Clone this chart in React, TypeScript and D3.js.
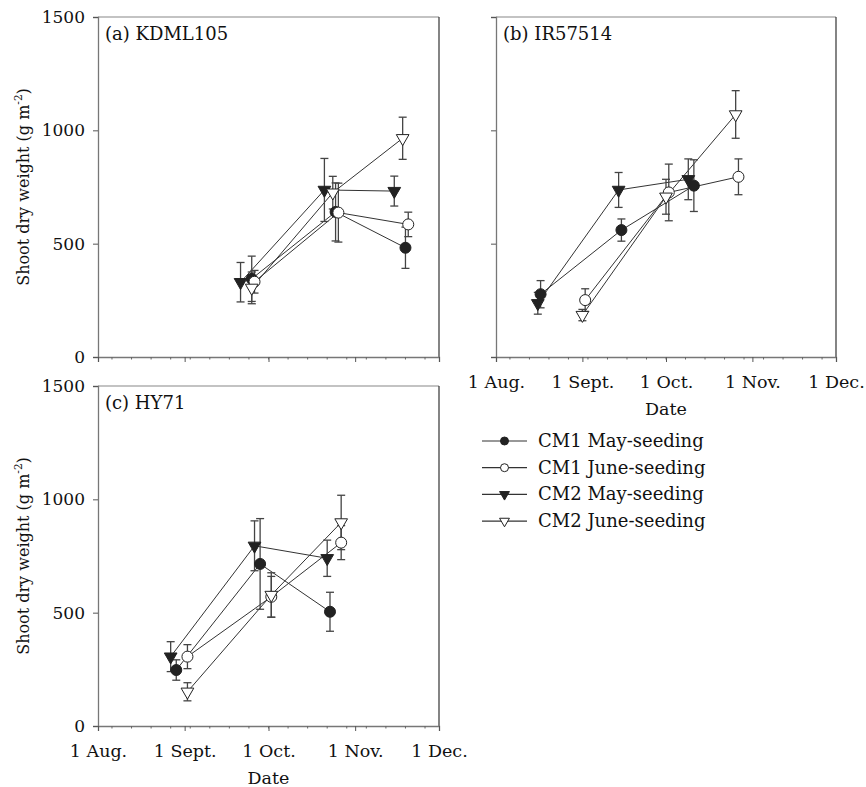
import React, { useEffect, useRef } from "react";
import * as d3 from "d3";

const seriesNames = ["CM1 May-seeding", "CM1 June-seeding", "CM2 May-seeding", "CM2 June-seeding"];
const panelTitles = ["(a) KDML105", "(b) IR57514", "(c) HY71"];

const xTickDates = ["08-01", "09-01", "10-01", "11-01", "12-01"];
const xTickLabels = ["1 Aug.", "1 Sept.", "1 Oct.", "1 Nov.", "1 Dec."];
const yTicks = [0, 500, 1000, 1500];

// (a) KDML105 - rows: CM1 May, CM1 June, CM2 May, CM2 June
const kdmlDates = [
  ["09-25", "10-25", "11-19"],
  ["09-26", "10-26", "11-20"],
  ["09-21", "10-21", "11-15"],
  ["09-25", "10-24", "11-18"],
];
const kdmlValues = [
  [345, 640, 482],
  [332, 637, 585],
  [330, 737, 732],
  [305, 725, 965],
];
const kdmlErrors = [
  [100, 128, 91],
  [50, 130, 54],
  [87, 139, 66],
  [70, 72, 93],
];

// (b) IR57514
const irDates = [
  ["08-17", "09-15", "10-11"],
  ["09-02", "10-02", "10-27"],
  ["08-16", "09-14", "10-09"],
  ["09-01", "10-01", "10-26"],
];
const irValues = [
  [277, 560, 756],
  [251, 726, 795],
  [237, 737, 784],
  [185, 707, 1070],
];
const irErrors = [
  [60, 49, 114],
  [50, 125, 79],
  [48, 77, 90],
  [25, 77, 105],
];

// (c) HY71
const hyDates = [
  ["08-29", "09-28", "10-23"],
  ["09-02", "10-02", "10-27"],
  ["08-27", "09-26", "10-22"],
  ["09-02", "10-02", "10-27"],
];
const hyValues = [
  [247, 715, 504],
  [306, 570, 809],
  [306, 795, 740],
  [151, 578, 898],
];
const hyErrors = [
  [45, 200, 86],
  [53, 90, 75],
  [66, 110, 80],
  [40, 98, 120],
];

const FONT = "DejaVu Serif";
const INK = "#111";
const parse = d3.timeParse("%m-%d");

function App() {
  const ref = useRef<SVGSVGElement>(null);

  useEffect(() => {
    document.body.style.margin = "0";
    const svg = d3.select(ref.current);
    svg.selectAll("*").remove();

    const panels = [
      { left: 98, top: 17, width: 341, height: 340, yLabels: true, xLabels: false, dates: kdmlDates, values: kdmlValues, errors: kdmlErrors },
      { left: 496, top: 17, width: 340, height: 340, yLabels: false, xLabels: true, dates: irDates, values: irValues, errors: irErrors },
      { left: 98, top: 386, width: 341, height: 340, yLabels: true, xLabels: true, dates: hyDates, values: hyValues, errors: hyErrors },
    ];

    const markerPath = (i: number, big: boolean) => {
      const type = i < 2 ? d3.symbolCircle : d3.symbolTriangle;
      const size = i < 2 ? (big ? 95 : 50) : (big ? 70 : 42);
      return d3.symbol().type(type).size(size)();
    };
    const markerFill = (i: number) => (i % 2 === 0 ? "#222" : "#fff");
    const markerRot = (i: number) => (i < 2 ? "" : " rotate(180)");

    const xStart = parse("08-01")!;
    const xEnd = parse("12-01")!;

    panels.forEach((p, pi) => {
      const x = d3.scaleTime().domain([xStart, xEnd]).range([0, p.width]);
      const y = d3.scaleLinear().domain([0, 1500]).range([p.height, 0]);
      const g = svg.append("g").attr("transform", `translate(${p.left},${p.top})`);

      // frame top/right
      g.append("line").attr("x1", 0).attr("x2", p.width).attr("y1", 0).attr("y2", 0)
        .attr("stroke", "#888").attr("stroke-width", 1.2);
      g.append("line").attr("x1", p.width).attr("x2", p.width).attr("y1", 0).attr("y2", p.height)
        .attr("stroke", "#333").attr("stroke-width", 1.2);

      // y axis
      const yAxis = g.append("g")
        .call(d3.axisLeft(y).tickValues(yTicks).tickSize(5).tickFormat((d) => (p.yLabels ? String(d) : "")));
      yAxis.select(".domain").attr("stroke", "#777").attr("stroke-width", 1.3);
      yAxis.selectAll(".tick line").attr("stroke", "#555");
      yAxis.selectAll("text").attr("font-family", FONT).attr("font-size", 17).attr("fill", INK).attr("x", -13);

      // x axis
      const xAxis = g.append("g").attr("transform", `translate(0,${p.height})`)
        .call(d3.axisBottom(x).tickValues(xTickDates.map((d) => parse(d)!)).tickSize(5)
          .tickFormat((_, i) => (p.xLabels ? xTickLabels[i] : "")));
      xAxis.select(".domain").attr("stroke", "#777").attr("stroke-width", 1.3);
      xAxis.selectAll(".tick line").attr("stroke", "#555");
      xAxis.selectAll("text").attr("font-family", FONT).attr("font-size", 17.5).attr("fill", INK).attr("y", 19);

      // minor ticks
      const minor = d3.timeDay.range(d3.timeDay.offset(xStart, 5), xEnd, 7);
      g.append("g").selectAll("line").data(minor).enter().append("line")
        .attr("x1", (d) => x(d)).attr("x2", (d) => x(d))
        .attr("y1", p.height).attr("y2", p.height + 2.5)
        .attr("stroke", "#666").attr("stroke-width", 1);

      // panel title
      g.append("text").attr("x", 7).attr("y", 23).text(panelTitles[pi])
        .attr("font-family", FONT).attr("font-size", 18).attr("fill", INK);

      if (p.yLabels) {
        const t = g.append("text")
          .attr("transform", `translate(${29 - p.left},${p.height / 2}) rotate(-90)`)
          .attr("text-anchor", "middle")
          .attr("font-family", FONT).attr("font-size", 16).attr("fill", INK);
        t.append("tspan").text("Shoot dry weight (g m");
        t.append("tspan").text("-2").attr("font-size", 10.5).attr("dy", -7);
        t.append("tspan").text(")").attr("dy", 7);
      }
      if (p.xLabels) {
        g.append("text").attr("x", p.width / 2).attr("y", p.height + 58)
          .attr("text-anchor", "middle").text("Date")
          .attr("font-family", FONT).attr("font-size", 17.5).attr("fill", INK);
      }

      const series = seriesNames.map((_, si) =>
        p.dates[si].map((d, k) => ({ date: parse(d)!, value: p.values[si][k], err: p.errors[si][k] }))
      );

      const line = d3.line<{ date: Date; value: number }>().x((d) => x(d.date)).y((d) => y(d.value));

      series.forEach((s) => {
        g.append("path").datum(s).attr("d", line).attr("fill", "none")
          .attr("stroke", "#333").attr("stroke-width", 1);
      });

      series.forEach((s) => {
        const eb = g.append("g").attr("stroke", "#444").attr("stroke-width", 1.3);
        s.forEach((d) => {
          const cx = x(d.date);
          eb.append("line").attr("x1", cx).attr("x2", cx).attr("y1", y(d.value - d.err)).attr("y2", y(d.value + d.err));
          eb.append("line").attr("x1", cx - 4).attr("x2", cx + 4).attr("y1", y(d.value - d.err)).attr("y2", y(d.value - d.err));
          eb.append("line").attr("x1", cx - 4).attr("x2", cx + 4).attr("y1", y(d.value + d.err)).attr("y2", y(d.value + d.err));
        });
      });

      series.forEach((s, si) => {
        g.append("g").selectAll("path").data(s).enter().append("path")
          .attr("d", markerPath(si, true))
          .attr("transform", (d) => `translate(${x(d.date)},${y(d.value)})${markerRot(si)}`)
          .attr("fill", markerFill(si)).attr("stroke", "#222").attr("stroke-width", 1);
      });
    });

    // legend
    const legend = svg.append("g").attr("transform", "translate(482,441)");
    seriesNames.forEach((name, i) => {
      const row = legend.append("g").attr("transform", `translate(0,${i * 26.7})`);
      row.append("line").attr("x1", 0).attr("x2", 45).attr("y1", 0).attr("y2", 0)
        .attr("stroke", "#333").attr("stroke-width", 1.2);
      row.append("path").attr("d", markerPath(i, false))
        .attr("transform", `translate(22.5,0)${markerRot(i)}`)
        .attr("fill", markerFill(i)).attr("stroke", "#222").attr("stroke-width", 1);
      row.append("text").attr("x", 56).attr("y", 6).text(name)
        .attr("font-family", FONT).attr("font-size", 18).attr("fill", INK);
    });
  }, []);

  return <svg ref={ref} width={866} height={787} style={{ display: "block", background: "#fff" }} />;
}

export default App;
